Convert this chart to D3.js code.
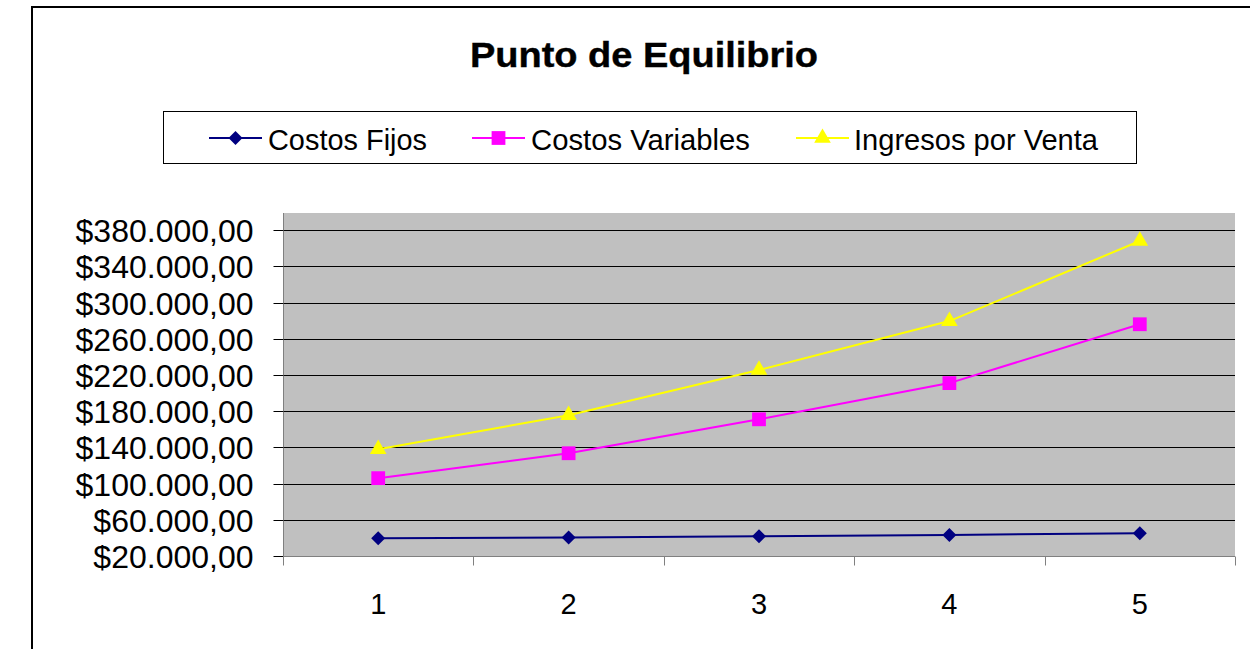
<!DOCTYPE html>
<html><head><meta charset="utf-8">
<script src="https://cdn.jsdelivr.net/npm/d3@7"></script>
<style>body{margin:0;background:#fff}svg{display:block;font-family:"Liberation Sans",Arial,sans-serif}</style>
</head><body><svg id="c" width="1250" height="649"></svg>
<script>
const categories = ["1","2","3","4","5"];
const costosFijos = [39500, 40500, 41800, 43300, 45000];
const costosVariables = [106000, 133500, 171000, 211000, 276000];
const ingresosVenta = [138000, 175500, 225500, 279500, 368000];
const yTicks = [20000,60000,100000,140000,180000,220000,260000,300000,340000,380000];
const seriesNames = ["Costos Fijos","Costos Variables","Ingresos por Venta"];
const title = "Punto de Equilibrio";

const svg = d3.select("#c");
const loc = d3.formatLocale({decimal:",", thousands:".", grouping:[3], currency:["$",""]});
const fmt = loc.format("$,.2f");

const L=283, R=1235, T=212, B=556;
const x = d3.scaleBand().domain(categories).range([L,R]);
const y = d3.scaleLinear().domain([20000,400000]).range([B,T]);

// outer border
svg.append("rect").attr("x",32).attr("y",7).attr("width",1240).attr("height",660)
  .attr("fill","none").attr("stroke","#000").attr("stroke-width",2);

// title
svg.append("text").attr("x",644).attr("y",67).attr("text-anchor","middle")
  .attr("font-weight","bold").attr("font-size",35).attr("textLength",348)
  .attr("lengthAdjust","spacingAndGlyphs").attr("stroke","#000").attr("stroke-width",0.4).text(title);

// plot area
svg.append("rect").attr("x",L).attr("y",T+1).attr("width",R-L).attr("height",B-T-1).attr("fill","#C0C0C0");

// gridlines
svg.append("g").selectAll("line").data(yTicks.slice(1)).join("line")
  .attr("x1",L).attr("x2",R).attr("y1",d=>Math.round(y(d))+0.5).attr("y2",d=>Math.round(y(d))+0.5)
  .attr("stroke","#000").attr("stroke-width",1);

// y axis
const ya = svg.append("g").attr("transform",`translate(${L+0.5},0)`)
  .call(d3.axisLeft(y).tickValues(yTicks).tickFormat(fmt).tickSize(10).tickPadding(20));
ya.select(".domain").attr("stroke","#808080").attr("d",`M0,${T+1}V${B+9}`);
ya.selectAll(".tick line").attr("stroke","#000");
ya.selectAll(".tick text").attr("font-size",32).attr("fill","#000").attr("dy","0.35em")
  .attr("font-family","'Liberation Sans',Arial,sans-serif");
ya.selectAll(".tick").attr("transform",d=>`translate(0,${Math.round(y(d))+0.5})`);

// x axis
const xa = svg.append("g").attr("transform",`translate(0,${B+0.5})`)
  .call(d3.axisBottom(x).tickSize(0));
xa.select(".domain").attr("stroke","#808080").attr("d",`M${L},0H${R}`);
xa.selectAll(".tick text").attr("font-size",29).attr("fill","#000").attr("y",57).attr("dy",0)
  .attr("font-family","'Liberation Sans',Arial,sans-serif");
xa.selectAll(".tick").attr("transform",d=>`translate(${x(d)+x.bandwidth()/2},0)`);
const bounds = categories.map(c=>x(c)).concat([R]);
xa.append("g").selectAll("line").data(bounds).join("line")
  .attr("x1",d=>Math.round(d)+0.5).attr("x2",d=>Math.round(d)+0.5).attr("y1",0).attr("y2",9)
  .attr("stroke","#808080");

const cx = c => x(c)+x.bandwidth()/2;
const line = d3.line().x((d,i)=>cx(categories[i])).y(d=>y(d));
const series = [
  {vals:costosFijos, color:"#000080", sym:d3.symbolSquare, size:98, rot:45},
  {vals:costosVariables, color:"#FF00FF", sym:d3.symbolSquare, size:190, rot:0},
  {vals:ingresosVenta, color:"#FFFF00", sym:d3.symbolTriangle, size:120, rot:0}
];
series.forEach(s=>{
  svg.append("path").datum(s.vals).attr("d",line).attr("fill","none")
    .attr("stroke",s.color).attr("stroke-width",2);
  svg.append("g").selectAll("path").data(s.vals).join("path")
    .attr("d",d3.symbol(s.sym,s.size)).attr("fill",s.color)
    .attr("transform",(d,i)=>`translate(${cx(categories[i])},${y(d)}) rotate(${s.rot})`);
});

// legend
svg.append("rect").attr("x",163.5).attr("y",111.5).attr("width",973).attr("height",52)
  .attr("fill","#fff").attr("stroke","#000").attr("stroke-width",1);
const legPos = [{lx:209, tx:268, tw:159},{lx:472, tx:531, tw:219},{lx:796, tx:854, tw:244}];
series.forEach((s,i)=>{
  const p = legPos[i];
  svg.append("line").attr("x1",p.lx).attr("x2",p.lx+53).attr("y1",138).attr("y2",138)
    .attr("stroke",s.color).attr("stroke-width",2);
  svg.append("path").attr("d",d3.symbol(s.sym,s.size)).attr("fill",s.color)
    .attr("transform",`translate(${p.lx+26.5},138) rotate(${s.rot})`);
  svg.append("text").attr("x",p.tx).attr("y",150).attr("font-size",29)
    .attr("textLength",p.tw).attr("lengthAdjust","spacingAndGlyphs").text(seriesNames[i]);
});
</script></body></html>
